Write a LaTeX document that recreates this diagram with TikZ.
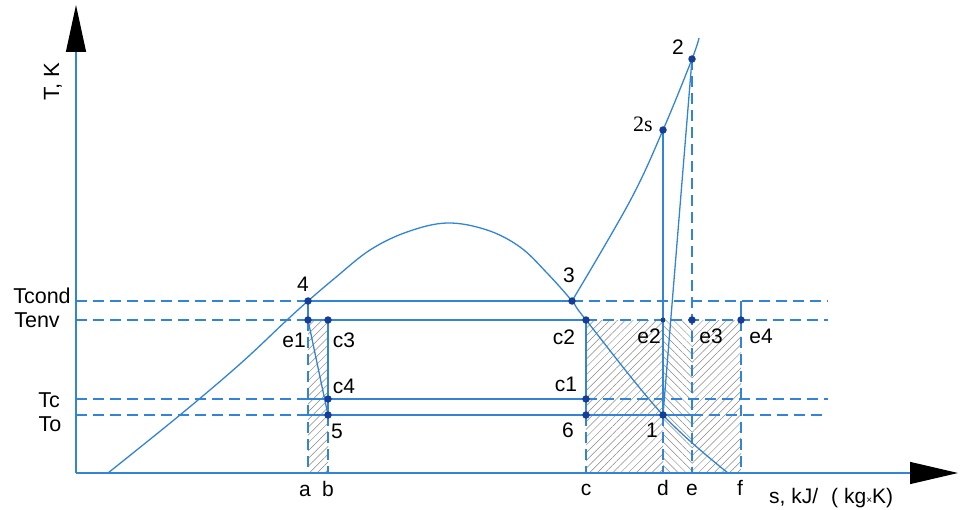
\documentclass[tikz,border=0pt]{standalone}
\usepackage{fontspec}
\setmainfont{Liberation Sans}
\newfontfamily\serifface{Liberation Serif}
\usetikzlibrary{arrows.meta,patterns.meta}
\definecolor{lineblue}{RGB}{50,132,214}
\definecolor{dotblue}{RGB}{22,62,150}
\definecolor{hatchgray}{RGB}{135,135,135}
\tikzset{
  ln/.style={draw=lineblue, line width=1.3pt},
  dsh/.style={draw=lineblue, line width=1.3pt, dash pattern=on 11pt off 6pt},
  dot/.style={circle, fill=dotblue, inner sep=0pt, minimum size=7.5pt},
  lbl/.style={anchor=base, font=\fontsize{21}{24}\selectfont, inner sep=0pt},
  hatchR/.style={pattern={Lines[angle=45,distance=5.5pt,line width=0.5pt]}, pattern color=hatchgray},
  hatchL/.style={pattern={Lines[angle=-45,distance=5.5pt,line width=0.5pt]}, pattern color=hatchgray},
}
\begin{document}
\begin{tikzpicture}[x=1pt,y=-1pt]
\useasboundingbox (0,0) rectangle (960,510);
% key coordinates
\coordinate (O) at (76,473);
\coordinate (ytip) at (76,5);
\coordinate (xtip) at (958,473);
\coordinate (P4) at (308,301);
\coordinate (E1) at (308,320);
\coordinate (C3) at (328,320);
\coordinate (C4) at (328,399);
\coordinate (P5) at (328,415);
\coordinate (P3) at (572,301);
\coordinate (C2) at (586,320);
\coordinate (C1) at (586,399);
\coordinate (P6) at (586,415);
\coordinate (E2) at (663,320);
\coordinate (E3) at (692,320);
\coordinate (E4) at (741,320);
\coordinate (P1) at (663,415);
\coordinate (P2s) at (663,130);
\coordinate (P2) at (692,59);
\coordinate (L1) at (76,301);
\coordinate (L2) at (76,320);
\coordinate (L3) at (76,399);
\coordinate (L4) at (76,415);
\coordinate (R1) at (828,301);
\coordinate (R2) at (828,320);
\coordinate (R3) at (828,399);
\coordinate (R4) at (828,415);
\coordinate (A) at (308,473);
\coordinate (B) at (328,473);
\coordinate (C) at (586,473);
\coordinate (D) at (663,473);
\coordinate (E) at (692,473);
\coordinate (F) at (741,473);
\coordinate (Ftop) at (741,301);
\coordinate (Atc) at (308,399);
\coordinate (Ato) at (308,415);
\coordinate (Eto) at (692,415);
% hatching
\fill[hatchR] (E1) rectangle (B);
\fill[hatchR] (C2) rectangle (D);
\fill[hatchL] (E2) rectangle (E);
\fill[hatchR] (E3) rectangle (F);
% axes
\draw[ln, -{Triangle[length=47pt,width=20pt,black]}] (O) -- (ytip);
\draw[ln, -{Triangle[length=48pt,width=22pt,black]}] (O) -- (xtip);
% horizontal levels
\draw[dsh] (L1) -- (P4); \draw[ln] (P4) -- (P3); \draw[dsh] (P3) -- (R1);
\draw[dsh] (L2) -- (E1); \draw[ln] (E1) -- (C2); \draw[dsh] (C2) -- (R2);
\draw[dsh] (L3) -- (Atc); \draw[ln] (Atc) -- (C1); \draw[dsh] (C1) -- (R3);
\draw[dsh] (L4) -- (Ato); \draw[ln] (Ato) -- (Eto); \draw[dsh] (Eto) -- (R4);
% verticals
\draw[ln] (P4) -- (E1); \draw[dsh] (E1) -- (A);
\draw[ln] (C3) -- (P5); \draw[dsh] (P5) -- (B);
\draw[ln] (C2) -- (P6); \draw[dsh] (P6) -- (C);
\draw[ln] (P2s) -- (P1); \draw[dsh] (P1) -- (D);
\draw[dsh] (P2) -- (E);
\draw[ln] (Ftop) -- (E4); \draw[dsh] (E4) -- (F);
% process lines
\draw[ln] (E1) -- (P5);
\draw[ln] (P1) -- (P2);
% saturation dome
\draw[ln] plot[smooth,tension=0.6] coordinates {(108,473) (180,415) (240,364) (287,320) (308,301) (335,278) (370,250) (407,232) (447,223) (487,230) (520,247) (547,273) (572,301) (586,320) (663,415) (728,473)};
% superheated isobar
\draw[ln] plot[smooth,tension=0.6] coordinates {(572,301) (630,201) (663,130) (692,59) (699,38)};
% points
\node[dot] (d4) at (P4) {};
\node[dot] (de1) at (E1) {};
\node[dot] (dc3) at (C3) {};
\node[dot] (dc4) at (C4) {};
\node[dot] (d5) at (P5) {};
\node[dot] (d3) at (P3) {};
\node[dot] (dc2) at (C2) {};
\node[dot] (dc1) at (C1) {};
\node[dot] (d6) at (P6) {};
\node[dot, minimum size=5pt] (de2) at (E2) {};
\node[dot] (de3) at (E3) {};
\node[dot] (de4) at (E4) {};
\node[dot] (d1) at (P1) {};
\node[dot] (d2s) at (P2s) {};
\node[dot] (d2) at (P2) {};
% labels
\node[rotate=90, font=\fontsize{22}{24}\selectfont] (ylab) at (53,82) {T, K};
\node[lbl, anchor=base west] (xlab) at (769,503) {s, kJ/\hspace{13pt}(\hspace{6pt}kg{\fontsize{10}{10}\selectfont ×}K)};
\node[lbl, font=\fontsize{21.5}{24}\selectfont] (tTcond) at (42,303) {Tcond};
\node[lbl, font=\fontsize{21.5}{24}\selectfont] (tTenv) at (37,327) {Tenv};
\node[lbl, font=\fontsize{21.5}{24}\selectfont] (tTc) at (49,407) {Tc};
\node[lbl, font=\fontsize{21.5}{24}\selectfont] (tTo) at (50,431) {To};
\node[lbl] (t4) at (303,291) {4};
\node[lbl] (te1) at (294,347) {e1};
\node[lbl] (tc3) at (344,347) {c3};
\node[lbl] (tc4) at (344,393) {c4};
\node[lbl] (t5) at (337,438) {5};
\node[lbl] (t3) at (569,283) {3};
\node[lbl] (tc2) at (564,344) {c2};
\node[lbl] (tc1) at (566,391) {c1};
\node[lbl] (t6) at (568,437) {6};
\node[lbl] (te2) at (649,343) {e2};
\node[lbl] (te3) at (711,343) {e3};
\node[lbl] (te4) at (761,343) {e4};
\node[lbl] (t1) at (652,437) {1};
\node[lbl, font=\serifface\fontsize{22}{24}\selectfont] (t2s) at (643,132) {2s};
\node[lbl] (t2) at (678,55) {2};
\node[lbl] (ta) at (305,496) {a};
\node[lbl] (tb) at (328,496) {b};
\node[lbl] (tc) at (586,495) {c};
\node[lbl] (td) at (663,495) {d};
\node[lbl] (te) at (692,495) {e};
\node[lbl] (tf) at (740,495) {f};
\end{tikzpicture}
\end{document}
